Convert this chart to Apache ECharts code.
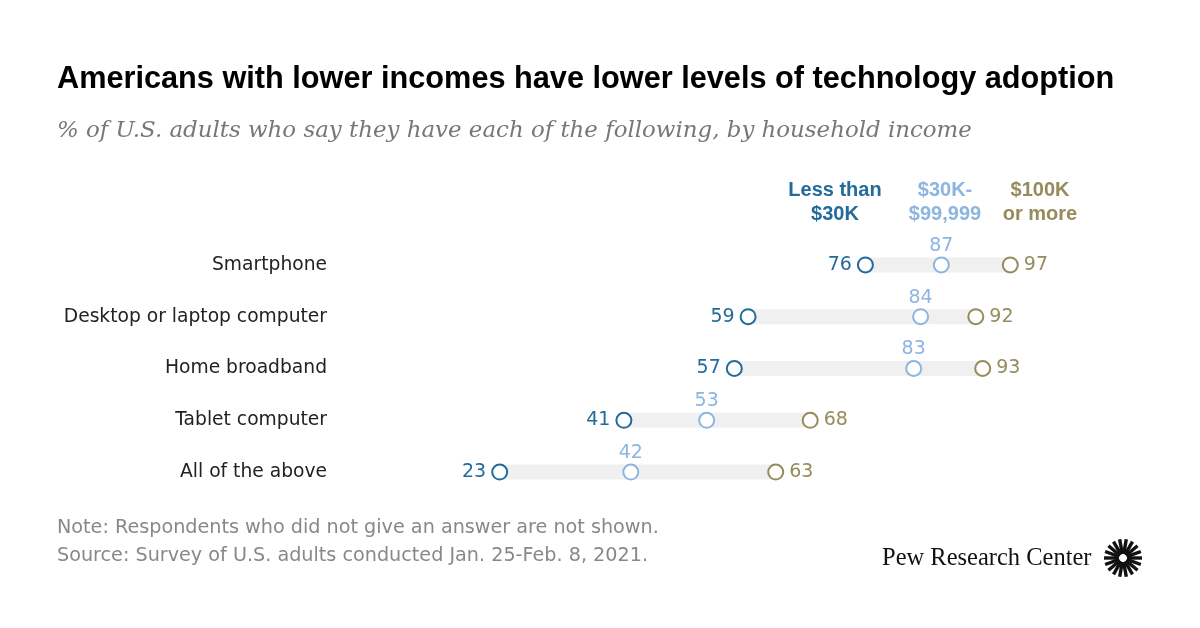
<!DOCTYPE html>
<html>
<head>
<meta charset="utf-8">
<script src="https://cdn.jsdelivr.net/npm/echarts@6/dist/echarts.min.js"></script>
<style>
html, body { margin: 0; padding: 0; background: #fff; }
#main { width: 1200px; height: 628px; }
</style>
</head>
<body>
<div id="main"></div>
<script>
// 数据
var cats = ['Smartphone', 'Desktop or laptop computer', 'Home broadband', 'Tablet computer', 'All of the above'];
var lowInc = [76, 59, 57, 41, 23];
var midInc = [87, 84, 83, 53, 42];
var highInc = [97, 92, 93, 68, 63];
var groupNames = ['Less than\n$30K', '$30K-\n$99,999', '$100K\nor more'];

var cDark = '#236b9b';
var cLight = '#8cb5e1';
var cOlive = '#958b5c';

function init () {
	var cc = echarts.init(document.getElementById('main'));

	var gap = [];
	for (var i = 0; i < cats.length; i++) {
		gap.push(Math.max(highInc[i], midInc[i]) - lowInc[i]);
	}

	function pts (arr) {
		return arr.map(function (v, i) { return [v, i]; });
	}

	function dot (name, arr, color, pos) {
		return {
			name: name,
			type: 'scatter',
			data: pts(arr),
			symbol: 'circle',
			symbolSize: 15,
			z: 5,
			itemStyle: { color: '#fff', borderColor: color, borderWidth: 2, opacity: 1 },
			label: {
				show: true,
				position: pos,
				distance: pos == 'top' ? 1 : 5,
				color: color,
				fontFamily: 'DejaVu Sans',
				fontSize: 19,
				formatter: function (p) { return p.value[0]; }
			}
		};
	}

	// 光芒图标
	var rays = [];
	var n = 18;
	for (var k = 0; k < n; k++) {
		var a = k / n * Math.PI * 2;
		rays.push({
			type: 'line',
			shape: {
				x1: 1123 + Math.cos(a) * 4, y1: 558 + Math.sin(a) * 4,
				x2: 1123 + Math.cos(a) * 19, y2: 558 + Math.sin(a) * 19
			},
			style: { stroke: '#111', lineWidth: 3.4 }
		});
	}

	var op = {
		animation: false,
		grid: { left: 341, right: 169, top: 239, bottom: 130 },
		xAxis: {
			type: 'value', min: 0, max: 100, show: false
		},
		yAxis: {
			type: 'category',
			data: cats,
			inverse: true,
			axisLine: { show: false },
			axisTick: { show: false },
			splitLine: { show: false },
			axisLabel: { margin: 14, color: '#222', fontFamily: 'DejaVu Sans', fontSize: 18.7 }
		},
		graphic: [
			{ type: 'text', left: 57, top: 64, style: { text: 'Americans with lower incomes have lower levels of technology adoption', font: 'bold 30.7px "Liberation Sans"', fill: '#000' } },
			{ type: 'text', left: 57, top: 120, style: { text: '% of U.S. adults who say they have each of the following, by household income', font: 'italic 22.9px "DejaVu Serif"', fill: '#777' } },
			{ type: 'text', x: 835, y: 178, style: { text: groupNames[0], font: 'bold 20px "Liberation Sans"', fill: cDark, align: 'center', lineHeight: 24 } },
			{ type: 'text', x: 945, y: 178, style: { text: groupNames[1], font: 'bold 20px "Liberation Sans"', fill: cLight, align: 'center', lineHeight: 24 } },
			{ type: 'text', x: 1040, y: 178, style: { text: groupNames[2], font: 'bold 20px "Liberation Sans"', fill: cOlive, align: 'center', lineHeight: 24 } },
			{ type: 'text', left: 57, top: 519, style: { text: 'Note: Respondents who did not give an answer are not shown.', font: '19.2px "DejaVu Sans"', fill: '#888' } },
			{ type: 'text', left: 57, top: 547, style: { text: 'Source: Survey of U.S. adults conducted Jan. 25-Feb. 8, 2021.', font: '19.2px "DejaVu Sans"', fill: '#888' } },
			{ type: 'text', left: 882, top: 546, style: { text: 'Pew Research Center', font: '24.5px "Liberation Serif"', fill: '#111' } },
			{ type: 'group', children: rays }
		],
		series: [
			{
				type: 'bar', stack: 'rng', data: lowInc, barWidth: 15,
				itemStyle: { color: 'transparent' }, silent: true
			},
			{
				type: 'bar', stack: 'rng', data: gap, barWidth: 15,
				itemStyle: { color: '#f0f0f0' }, silent: true
			},
			dot('low', lowInc, cDark, 'left'),
			dot('mid', midInc, cLight, 'top'),
			dot('high', highInc, cOlive, 'right')
		]
	};

	cc.setOption(op);
}
init();
</script>
</body>
</html>
